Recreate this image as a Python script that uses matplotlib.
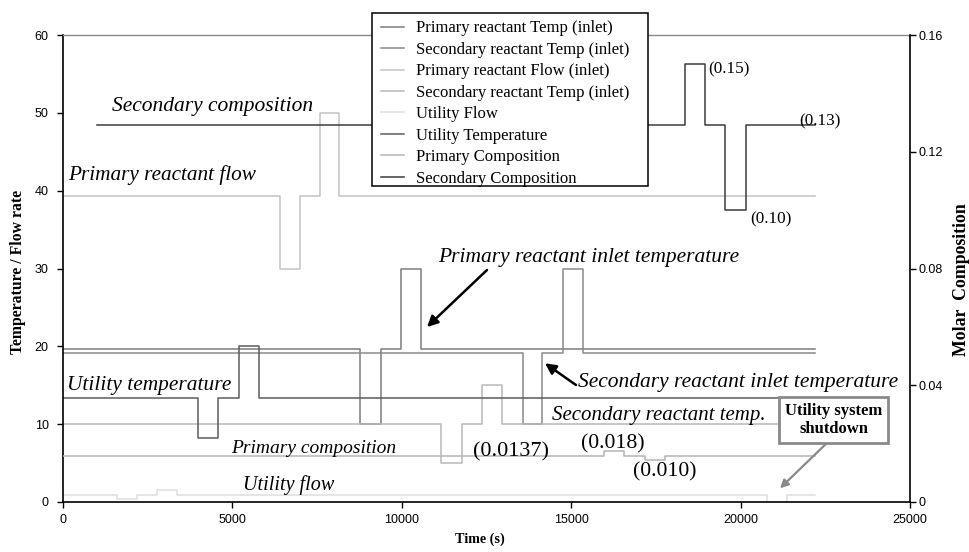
import matplotlib
matplotlib.use('Agg')
import matplotlib.pyplot as plt
from matplotlib.patches import Rectangle

W, H, DPI = 969, 552, 100

# ---------------- data ----------------
prim_temp_t = [0, 8780, 9390, 9970, 10570, 22200]
prim_temp_v = [19.7, 10, 19.7, 30, 19.7, 19.7]
sec_temp_t = [0, 13580, 14150, 14770, 15360, 22200]
sec_temp_v = [19.1, 10, 19.1, 30, 19.1, 19.1]
prim_flow_t = [0, 6400, 6990, 7580, 8160, 22200]
prim_flow_v = [39.3, 30, 39.3, 50, 39.3, 39.3]
sec_flow_t = [0, 11160, 11780, 12380, 12970, 22200]
sec_flow_v = [10, 5, 10, 15, 10, 10]
util_flow_t = [0, 1610, 2200, 2790, 3370, 20780, 21360, 22200]
util_flow_v = [0.85, 0.35, 0.85, 1.6, 0.85, 0, 0.85, 0.85]
util_temp_t = [0, 3980, 4580, 5200, 5790, 22200]
util_temp_v = [13.3, 8.2, 13.3, 20, 13.3, 13.3]
prim_comp_t = [0, 15970, 16550, 17190, 17760, 22200]
prim_comp_v = [0.0157, 0.0174, 0.0157, 0.0144, 0.0157, 0.0157]
sec_comp_t = [1000, 18350, 18950, 19550, 20150, 22200]
sec_comp_v = [0.129, 0.15, 0.129, 0.10, 0.129, 0.129]

legend_labels = ["Primary reactant Temp (inlet)", "Secondary reactant Temp (inlet)",
                 "Primary reactant Flow (inlet)", "Secondary reactant Temp (inlet)",
                 "Utility Flow", "Utility Temperature", "Primary Composition",
                 "Secondary Composition"]

x_ticks = [0, 5000, 10000, 15000, 20000, 25000]
x_ticklabels = ["0", "5000", "10000", "15000", "20000", "25000"]
yl_ticks = [0, 10, 20, 30, 40, 50, 60]
yl_ticklabels = ["0", "10", "20", "30", "40", "50", "60"]
yr_ticks = [0, 0.04, 0.08, 0.12, 0.16]
yr_ticklabels = ["0", "0.04", "0.08", "0.12", "0.16"]

SERIF = ["Liberation Serif", "DejaVu Serif"]
SANS = ["Liberation Sans", "DejaVu Sans"]

fig = plt.figure(figsize=(W / DPI, H / DPI), dpi=DPI)
fig.patch.set_facecolor("white")

def fx(x):
    return x / W

def fy(y):
    return 1 - y / H

L, R, T, B = 62.7, 910.0, 35.0, 502.0
ax = fig.add_axes([fx(L), fy(B), (R - L) / W, (B - T) / H])
ax2 = ax.twinx()

lw = 1.1
h1, = ax.plot(prim_temp_t, prim_temp_v, drawstyle="steps-post", color="#7c7c7c", lw=lw)
h2, = ax.plot(sec_temp_t, sec_temp_v, drawstyle="steps-post", color="#8a8a8a", lw=lw)
h3, = ax.plot(prim_flow_t, prim_flow_v, drawstyle="steps-post", color="#c4c4c4", lw=lw)
h4, = ax.plot(sec_flow_t, sec_flow_v, drawstyle="steps-post", color="#b8b8b8", lw=lw)
h5, = ax.plot(util_flow_t, util_flow_v, drawstyle="steps-post", color="#dedede", lw=lw)
h6, = ax.plot(util_temp_t, util_temp_v, drawstyle="steps-post", color="#5c5c5c", lw=lw)
h7, = ax2.plot(prim_comp_t, prim_comp_v, drawstyle="steps-post", color="#b4b4b4", lw=lw)
h8, = ax2.plot(sec_comp_t, sec_comp_v, drawstyle="steps-post", color="#3c3c3c", lw=lw)

ax.set_xlim(0, 25000)
ax.set_ylim(0, 60)
ax2.set_ylim(0, 0.16)

ax.set_xticks(x_ticks)
ax.set_xticklabels(x_ticklabels)
ax.set_yticks(yl_ticks)
ax.set_yticklabels(yl_ticklabels)
ax2.set_yticks(yr_ticks)
ax2.set_yticklabels(yr_ticklabels)

for a in (ax, ax2):
    for lab in a.get_xticklabels() + a.get_yticklabels():
        lab.set_fontfamily(SANS)
        lab.set_fontsize(9)

ax.tick_params(axis="x", direction="out", length=4, width=1, pad=4.5, colors="black")
ax.tick_params(axis="y", direction="out", length=4, width=1, pad=6, colors="black")
ax2.tick_params(axis="y", direction="out", length=4, width=1, pad=1.8, colors="black")

for s in ("left", "bottom"):
    ax.spines[s].set_color("black")
    ax.spines[s].set_linewidth(1.2)
ax.spines["top"].set_color("#888888")
ax.spines["top"].set_linewidth(1.0)
ax.spines["right"].set_visible(False)
for s in ("left", "bottom", "top"):
    ax2.spines[s].set_visible(False)
ax2.spines["right"].set_color("black")
ax2.spines["right"].set_linewidth(1.2)

# axis titles
fig.text(fx(18), fy(272), "Temperature / Flow rate", rotation=90, ha="center", va="center",
         fontfamily=SERIF, fontweight="bold", fontsize=11.3)
fig.text(fx(961.5), fy(280), "Molar  Composition", rotation=90, ha="center", va="center",
         fontfamily=SERIF, fontweight="bold", fontsize=12.8)
fig.text(fx(480), fy(543), "Time (s)", ha="center", va="baseline",
         fontfamily=SERIF, fontweight="bold", fontsize=10.2)

# italic annotations (left x, baseline y in pixels)
ital = [
    ("Secondary composition", 111.7, 110.7, 15.5),
    ("Primary reactant flow", 68, 180, 15.3),
    ("Primary reactant inlet temperature", 438, 261.7, 15.5),
    ("Utility temperature", 67, 390, 15.4),
    ("Secondary reactant inlet temperature", 578.3, 386.7, 15.5),
    ("Secondary reactant temp.", 552, 420, 15.0),
    ("Primary composition", 231, 453.3, 14.0),
    ("Utility flow", 243.3, 490, 14.5),
]
for s, x, y, fs in ital:
    fig.text(fx(x), fy(y), s, ha="left", va="baseline", fontfamily=SERIF,
             fontstyle="italic", fontsize=fs, color="black")

vals = [
    ("(0.0137)", 473.3, 456.5, 16),
    ("(0.018)", 580.7, 448.3, 15.7),
    ("(0.010)", 632.7, 476.7, 15.7),
    ("(0.15)", 708.3, 73.3, 12.3),
    ("(0.10)", 750.7, 223.3, 12.3),
    ("(0.13)", 799.3, 125, 12.3),
]
for s, x, y, fs in vals:
    fig.text(fx(x), fy(y), s, ha="left", va="baseline", fontfamily=SERIF,
             fontsize=fs, color="black")

# black arrows
def pix2data(px, py):
    return ((px - L) / (R - L) * 25000, (B - py) / (B - T) * 60)

ax.annotate("", xy=pix2data(427, 327), xytext=pix2data(487, 270),
            arrowprops=dict(arrowstyle="-|>", color="black", lw=1.8, mutation_scale=16,
                            shrinkA=0, shrinkB=0))
ax.annotate("", xy=pix2data(545, 363.3), xytext=pix2data(576, 385),
            arrowprops=dict(arrowstyle="-|>", color="black", lw=1.8, mutation_scale=16,
                            shrinkA=0, shrinkB=0))

# callout
ax2.annotate("Utility system\nshutdown", xy=(pix2data(780, 488.3)[0], (B - 488.3) / (B - T) * 0.16),
             xytext=(fx(833.5), fy(420)), textcoords="figure fraction",
             ha="center", va="center", fontfamily=SERIF, fontweight="bold", fontsize=12,
             linespacing=1.1,
             bbox=dict(boxstyle="square,pad=0.38", fc="white", ec="#8a8a8a", lw=2),
             arrowprops=dict(arrowstyle="-|>", color="#8a8a8a", lw=1.6, mutation_scale=12,
                             shrinkA=0, shrinkB=0, relpos=(0.5, 0)),
             zorder=10)

# legend
handles = [h1, h2, h3, h4, h5, h6, h7, h8]
leg = fig.legend(handles, legend_labels, loc="upper left",
                 bbox_to_anchor=(fx(373.5), fy(13.5)), bbox_transform=fig.transFigure,
                 frameon=False, prop={"family": SERIF, "size": 12},
                 handlelength=1.4, handletextpad=0.75, labelspacing=0.326,
                 borderpad=0.42, borderaxespad=0)
fig.patches.append(Rectangle((fx(371.7), fy(185.7)), (647.7 - 371.7) / W, (185.7 - 13.3) / H,
                             transform=fig.transFigure, fc="white", ec="black", lw=1.1,
                             zorder=4))
leg.set_zorder(5)

fig.savefig("out.png", dpi=DPI)
